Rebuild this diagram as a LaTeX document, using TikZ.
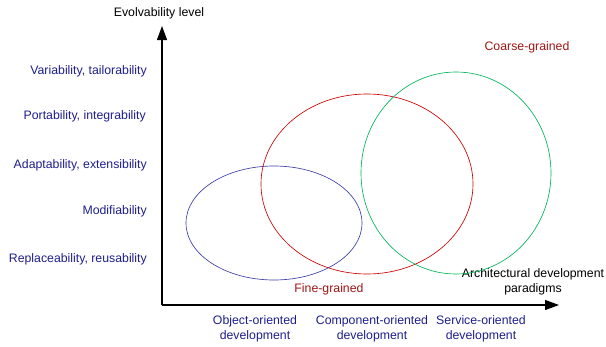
\documentclass[tikz,border=0pt]{standalone}
\usepackage{fontspec}
\setmainfont{Liberation Sans}
\usetikzlibrary{arrows.meta}

\definecolor{qualblue}{RGB}{30,30,140}
\definecolor{ovalblue}{RGB}{60,60,165}
\definecolor{ovalred}{RGB}{200,0,0}
\definecolor{ovalgreen}{RGB}{0,180,90}
\definecolor{grainred}{RGB}{160,20,20}

\tikzset{
    quality/.style={anchor=east, inner sep=0pt, text=qualblue, font=\fontsize{12.3}{15.5}\selectfont},
    paradigm/.style={align=center, inner sep=0pt, text=qualblue, font=\fontsize{12.3}{15.5}\selectfont},
    grain/.style={inner sep=0pt, text=grainred, font=\fontsize{12.3}{15.5}\selectfont},
    axislabel/.style={align=center, inner sep=0pt, font=\fontsize{12.3}{14.5}\selectfont},
    axis/.style={line width=1.1pt, -{Triangle[length=14pt, width=10pt]}},
    oval/.style={line width=0.65pt}
}

\begin{document}
\begin{tikzpicture}[x=1pt, y=-1pt]
    \useasboundingbox (0,0) rectangle (606,346);

    % Axes
    \coordinate (origin) at (162,305);
    \coordinate (ytop) at (162,26);
    \coordinate (xend) at (559,305);
    \draw[axis] (origin) -- (ytop);
    \draw[axis] (origin) -- (xend);

    \node[axislabel] (ylabel) at (159,13) {Evolvability level};
    \node[axislabel] (xlabel) at (533,282) {Architectural development\\paradigms};

    % Qualities on the vertical axis
    \node[quality] (variability) at (147,71) {Variability, tailorability};
    \node[quality] (portability) at (146,116) {Portability, integrability};
    \node[quality] (adaptability) at (147,165) {Adaptability, extensibility};
    \node[quality] (modifiability) at (147,211) {Modifiability};
    \node[quality] (replaceability) at (147,259) {Replaceability, reusability};

    % Paradigms on the horizontal axis
    \node[paradigm] (objectdev) at (255,329) {Object-oriented\\development};
    \node[paradigm] (componentdev) at (372,329) {Component-oriented\\development};
    \node[paradigm] (servicedev) at (481,329) {Service-oriented\\development};

    % Ovals of the three paradigms
    \draw[oval, ovalblue] (274,223) ellipse [x radius=88, y radius=57];
    \draw[oval, ovalred] (367,184) ellipse [x radius=106, y radius=90];
    \draw[oval, ovalgreen] (456,173) ellipse [x radius=95, y radius=101];

    \node[grain] (coarse) at (527,47) {Coarse-grained};
    \node[grain] (fine) at (329,289) {Fine-grained};

\end{tikzpicture}
\end{document}
